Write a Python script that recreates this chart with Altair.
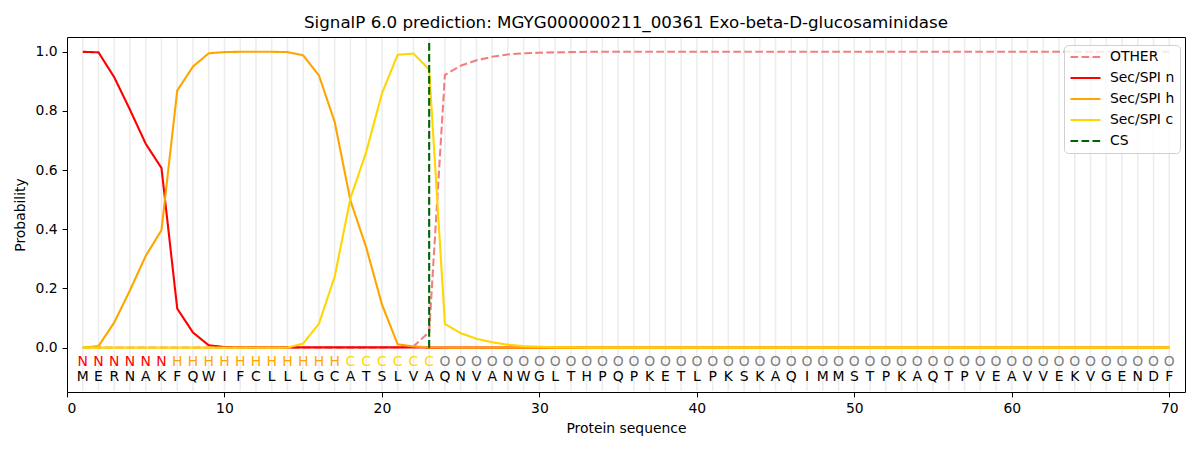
import altair as alt
import pandas as pd

sequence = list("MERNAKFQWIFCLLLGCATSLVAQNVANWGLTHPQPKETLPKSKAQIMMSTPKAQTPVEAVVEKVGENDF")
labels = list("NNNNNN" + "HHHHHHHHHHH" + "CCCCCC" + "O" * 47)
positions = list(range(1, 71))

p_other = [0.0, 0.0, 0.0, 0.0, 0.0, 0.0, 0.0, 0.0, 0.0, 0.0,
           0.0, 0.0, 0.0, 0.0, 0.0, 0.0, 0.0, 0.0, 0.0, 0.0,
           0.001, 0.004, 0.053, 0.922, 0.953, 0.971, 0.983, 0.991, 0.995, 0.997,
           0.998, 0.999, 1.0, 1.0, 1.0, 1.0, 1.0, 1.0, 1.0, 1.0,
           1.0, 1.0, 1.0, 1.0, 1.0, 1.0, 1.0, 1.0, 1.0, 1.0,
           1.0, 1.0, 1.0, 1.0, 1.0, 1.0, 1.0, 1.0, 1.0, 1.0,
           1.0, 1.0, 1.0, 1.0, 1.0, 1.0, 1.0, 1.0, 1.0, 1.0]
p_n = [1.0, 0.998, 0.914, 0.804, 0.689, 0.607, 0.132, 0.051, 0.008, 0.002,
       0.001, 0.001, 0.001, 0.001, 0.001, 0.001, 0.001, 0.001, 0.001, 0.001,
       0.001, 0.001, 0.0, 0.0, 0.0, 0.0, 0.0, 0.0, 0.0, 0.0,
       0.0, 0.0, 0.0, 0.0, 0.0, 0.0, 0.0, 0.0, 0.0, 0.0,
       0.0, 0.0, 0.0, 0.0, 0.0, 0.0, 0.0, 0.0, 0.0, 0.0,
       0.0, 0.0, 0.0, 0.0, 0.0, 0.0, 0.0, 0.0, 0.0, 0.0,
       0.0, 0.0, 0.0, 0.0, 0.0, 0.0, 0.0, 0.0, 0.0, 0.0]
p_h = [0.0, 0.005, 0.085, 0.194, 0.31, 0.397, 0.869, 0.95, 0.995, 0.999,
       1.0, 1.0, 1.0, 0.999, 0.988, 0.92, 0.763, 0.497, 0.339, 0.146,
       0.011, 0.004, 0.001, 0.0, 0.0, 0.0, 0.0, 0.0, 0.0, 0.0,
       0.0, 0.0, 0.0, 0.0, 0.0, 0.0, 0.0, 0.0, 0.0, 0.0,
       0.0, 0.0, 0.0, 0.0, 0.0, 0.0, 0.0, 0.0, 0.0, 0.0,
       0.0, 0.0, 0.0, 0.0, 0.0, 0.0, 0.0, 0.0, 0.0, 0.0,
       0.0, 0.0, 0.0, 0.0, 0.0, 0.0, 0.0, 0.0, 0.0, 0.0]
p_c = [0.0, 0.0, 0.0, 0.0, 0.0, 0.0, 0.0, 0.0, 0.0, 0.0,
       0.0, 0.0, 0.0, 0.0, 0.014, 0.081, 0.24, 0.505, 0.661, 0.859,
       0.99, 0.994, 0.94, 0.08, 0.049, 0.03, 0.018, 0.01, 0.005, 0.003,
       0.001, 0.001, 0.0, 0.0, 0.0, 0.0, 0.0, 0.0, 0.0, 0.0,
       0.0, 0.0, 0.0, 0.0, 0.0, 0.0, 0.0, 0.0, 0.0, 0.0,
       0.0, 0.0, 0.0, 0.0, 0.0, 0.0, 0.0, 0.0, 0.0, 0.0,
       0.0, 0.0, 0.0, 0.0, 0.0, 0.0, 0.0, 0.0, 0.0, 0.0]
cs_position = 23
series_names = ["OTHER", "Sec/SPI n", "Sec/SPI h", "Sec/SPI c", "CS"]
series_values = [p_other, p_n, p_h, p_c]

FONT = "DejaVu Sans"
W, H = 1118, 355
DASH = [7.7, 3.3]

rows = []
for name, vals in zip(series_names[:4], series_values):
    for p, v in zip(positions, vals):
        rows.append({"pos": p, "series": name, "value": v})
lines_df = pd.DataFrame(rows)
res_df = pd.DataFrame({"pos": positions, "aa": sequence, "lab": labels})
cs_df = pd.DataFrame({"pos": [cs_position], "series": ["CS"], "y0": [0.0], "y1": [1.04]})

xscale = alt.Scale(domain=[0, 71], nice=False, zero=False)
yscale = alt.Scale(domain=[-0.15, 1.05], nice=False, zero=False)
color_scale = alt.Scale(domain=series_names,
                        range=["#F08080", "#FF0000", "#FFA500", "#FFD700", "#006400"])
dash_scale = alt.Scale(domain=series_names,
                       range=[DASH, [1, 0], [1, 0], [1, 0], DASH])

xaxis = alt.Axis(values=list(range(0, 71, 10)), title="Protein sequence", grid=False)
yaxis = alt.Axis(values=[0, 0.2, 0.4, 0.6, 0.8, 1.0], format=".1f", title="Probability", grid=False)

grid = alt.Chart(res_df).mark_rule(color="#ececec", strokeWidth=1.5).encode(
    x=alt.X("pos:Q", scale=xscale, axis=xaxis),
    y=alt.value(1), y2=alt.value(H - 1),
)

layers = [grid]
for name in series_names[:4]:
    layers.append(
        alt.Chart(lines_df).transform_filter(alt.datum.series == name).mark_line(strokeWidth=2.1).encode(
            x=alt.X("pos:Q", scale=xscale, axis=xaxis),
            y=alt.Y("value:Q", scale=yscale, axis=yaxis),
            color=alt.Color("series:N", scale=color_scale, legend=alt.Legend(title=None)),
            strokeDash=alt.StrokeDash("series:N", scale=dash_scale, legend=alt.Legend(title=None)),
        )
    )

cs_rule = alt.Chart(cs_df).mark_rule(strokeWidth=2.1).encode(
    x=alt.X("pos:Q", scale=xscale, axis=xaxis),
    y=alt.Y("y0:Q", scale=yscale, axis=yaxis),
    y2="y1:Q",
    color=alt.Color("series:N", scale=color_scale, legend=alt.Legend(title=None)),
    strokeDash=alt.StrokeDash("series:N", scale=dash_scale, legend=alt.Legend(title=None)),
)
layers.append(cs_rule)

label_colors = {"N": "#FF0000", "H": "#FFA500", "C": "#FFD700", "O": "#808080"}
for lab, col in label_colors.items():
    layers.append(
        alt.Chart(res_df).transform_filter(alt.datum.lab == lab).mark_text(
            font=FONT, fontSize=13.9, color=col, align="center", baseline="middle"
        ).encode(
            x=alt.X("pos:Q", scale=xscale, axis=xaxis),
            y=alt.datum(-0.05, scale=yscale),
            text="lab:N",
        )
    )

layers.append(
    alt.Chart(res_df).mark_text(
        font=FONT, fontSize=13.9, color="#000000", align="center", baseline="middle"
    ).encode(
        x=alt.X("pos:Q", scale=xscale, axis=xaxis),
        y=alt.datum(-0.10, scale=yscale),
        text="aa:N",
    )
)

chart = alt.layer(*layers).properties(
    width=W, height=H,
    title=alt.TitleParams(
        "SignalP 6.0 prediction: MGYG000000211_00361 Exo-beta-D-glucosaminidase",
        font=FONT, fontSize=16.7, fontWeight="normal", color="#000000",
        anchor="middle", baseline="alphabetic", offset=-8,
    ),
    autosize="none",
    padding={"left": 59, "top": 29, "right": 7, "bottom": 50},
    background="white",
).configure_view(
    stroke="#000000", strokeWidth=1
).configure_axis(
    labelFont=FONT, labelFontSize=13.9, labelColor="#000000",
    titleFont=FONT, titleFontSize=13.9, titleColor="#000000", titleFontWeight="normal",
    tickColor="#000000", tickSize=4.9, tickWidth=1, labelPadding=4.9,
    domain=False,
).configure_axisX(
    titlePadding=6,
).configure_axisY(
    titlePadding=8,
).configure_legend(
    orient="none", legendX=997, legendY=8,
    labelFont=FONT, labelFontSize=13.9, labelColor="#000000",
    symbolType="stroke", symbolSize=900, symbolStrokeWidth=2.1,
    clipHeight=14, labelOffset=8, rowPadding=7, padding=5,
    fillColor="rgba(255,255,255,0.8)", strokeColor="#d0d0d0", cornerRadius=4,
)

chart.save("out.html", embed_options={"renderer": "svg", "actions": False})
